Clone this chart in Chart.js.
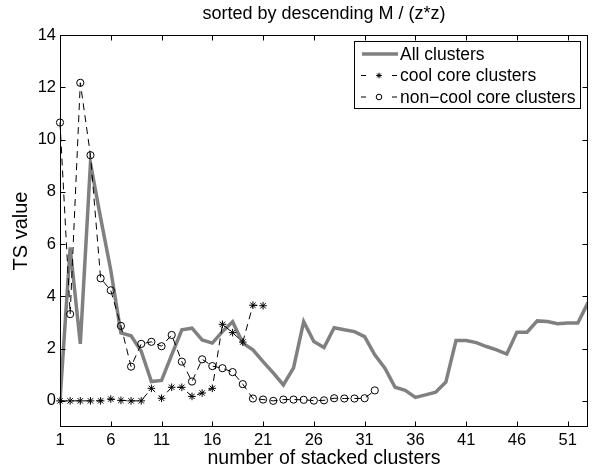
<!DOCTYPE html>
<html>
<head>
<meta charset="UTF-8">
<title>TS value vs number of stacked clusters</title>
<script src="https://cdn.jsdelivr.net/npm/chart.js"></script>
<style>
  html, body { margin: 0; padding: 0; background: #fff; }
  #wrap { width: 595px; height: 470px; }
</style>
</head>
<body>
<div id="wrap"><canvas id="tsChart" width="595" height="470"></canvas></div>
<script>
  // values, index 0 = 1 stacked cluster
  const allClusters = [0, 5.87, 2.18, 9.09, 7.0, 5.0, 2.6, 2.49, 1.9, 0.74,
    0.78, 1.76, 2.72, 2.78, 2.33, 2.21, 2.65, 3.03, 2.21, 1.95,
    1.5, 1.07, 0.61, 1.26, 3.03, 2.27, 2.04, 2.8, 2.72, 2.65,
    2.46, 1.76, 1.25, 0.52, 0.4, 0.13, 0.23, 0.33, 0.72, 2.31,
    2.31, 2.23, 2.08, 1.95, 1.79, 2.63, 2.63, 3.06, 3.04, 2.95,
    2.98, 2.98, 3.76];
  const coolCore = [0, 0, 0, 0, 0, 0.07, 0.02, 0, 0, 0.48,
    0.1, 0.52, 0.52, 0.17, 0.3, 0.48, 2.93, 2.61, 2.25, 3.66,
    3.64];
  const nonCoolCore = [10.65, 3.32, 12.17, 9.4, 4.69, 4.23, 2.87, 1.31, 2.18, 2.26,
    2.09, 2.52, 1.5, 0.74, 1.59, 1.33, 1.25, 1.1, 0.64, 0.09,
    0.05, 0.0, 0.05, 0.05, 0.04, 0.01, 0.02, 0.1, 0.09, 0.09,
    0.1, 0.4];
  const xTicks = [1, 6, 11, 16, 21, 26, 31, 36, 41, 46, 51];
  const yTicks = [0, 2, 4, 6, 8, 10, 12, 14];

  const FONT = "'Liberation Sans', Arial, Helvetica, sans-serif";
  const toPoints = arr => arr.map((v, i) => ({ x: i + 1, y: v }));

  // MATLAB-style box, inward ticks, title and inset legend
  const matlabLook = {
    id: 'matlabLook',
    afterDraw(chart) {
      const { ctx, chartArea: a, scales: { x, y } } = chart;
      const L = Math.round(a.left) + 0.5, R = Math.round(a.right) - 0.5;
      const T = Math.round(a.top) + 0.5, B = Math.round(a.bottom) - 0.5;
      ctx.save();
      ctx.strokeStyle = '#000';
      ctx.lineWidth = 1;
      ctx.setLineDash([]);
      ctx.strokeRect(L, T, R - L, B - T);
      ctx.beginPath();
      xTicks.forEach(v => {
        const px = Math.round(x.getPixelForValue(v)) + 0.5;
        ctx.moveTo(px, B); ctx.lineTo(px, B - 5);
        ctx.moveTo(px, T); ctx.lineTo(px, T + 5);
      });
      yTicks.forEach(v => {
        const py = Math.round(y.getPixelForValue(v)) + 0.5;
        ctx.moveTo(L, py); ctx.lineTo(L + 5, py);
        ctx.moveTo(R, py); ctx.lineTo(R - 5, py);
      });
      ctx.stroke();

      // title
      ctx.fillStyle = '#000';
      ctx.font = '18px ' + FONT;
      ctx.textAlign = 'center';
      ctx.textBaseline = 'middle';
      ctx.fillText('sorted by descending M / (z*z)', (a.left + a.right) / 2, 14);

      // legend
      const bx = 354.5, by = 41.5, bw = 226, bh = 67;
      ctx.fillStyle = '#fff';
      ctx.fillRect(bx, by, bw, bh);
      ctx.strokeStyle = '#000';
      ctx.strokeRect(bx, by, bw, bh);
      ctx.font = '17.5px ' + FONT;
      ctx.textAlign = 'left';
      chart.data.datasets.forEach((ds, i) => {
        const rowY = 54 + i * 21.5;
        ctx.save();
        ctx.strokeStyle = ds.borderColor;
        ctx.lineWidth = ds.borderWidth;
        ctx.beginPath();
        if (ds.borderDash) {
          ctx.moveTo(361, rowY); ctx.lineTo(366, rowY);
          ctx.moveTo(392, rowY); ctx.lineTo(397, rowY);
        } else {
          ctx.moveTo(362, rowY); ctx.lineTo(398, rowY);
        }
        ctx.stroke();
        if (ds.pointRadius > 0) {
          ctx.strokeStyle = ds.pointBorderColor;
          ctx.fillStyle = ds.pointBackgroundColor;
          Chart.helpers.drawPoint(ctx, { pointStyle: ds.pointStyle, radius: 2.8, borderWidth: 1 }, 379, rowY);
        }
        ctx.restore();
        ctx.fillStyle = '#000';
        ctx.fillText(ds.label, 400, rowY + 1);
      });
      ctx.restore();
    }
  };

  new Chart(document.getElementById('tsChart'), {
    type: 'line',
    data: {
      datasets: [
        {
          label: 'All clusters',
          data: toPoints(allClusters),
          borderColor: '#808080',
          borderWidth: 3.5,
          pointRadius: 0,
          tension: 0,
          order: 3
        },
        {
          label: 'cool core clusters',
          data: toPoints(coolCore),
          borderColor: '#000',
          borderWidth: 1,
          borderDash: [7, 5],
          pointStyle: 'star',
          pointRadius: 3.8,
          pointBorderColor: '#000',
          pointBackgroundColor: '#000',
          pointBorderWidth: 1,
          tension: 0,
          clip: false,
          order: 2
        },
        {
          label: 'non\u2212cool core clusters',
          data: toPoints(nonCoolCore),
          borderColor: '#000',
          borderWidth: 1,
          borderDash: [7, 5],
          pointStyle: 'circle',
          pointRadius: 3.6,
          pointBorderColor: '#000',
          pointBackgroundColor: 'rgba(0,0,0,0)',
          pointBorderWidth: 1,
          tension: 0,
          clip: false,
          order: 1
        }
      ]
    },
    options: {
      responsive: false,
      animation: false,
      layout: { padding: { left: 0, right: 7, top: 35, bottom: 0 } },
      plugins: {
        legend: { display: false },
        title: { display: false },
        tooltip: { enabled: false }
      },
      scales: {
        x: {
          type: 'linear',
          min: 1,
          max: 53,
          grid: { display: false, drawTicks: false },
          border: { display: false },
          afterBuildTicks: s => { s.ticks = xTicks.map(v => ({ value: v })); },
          afterFit: s => { s.height = 43; },
          ticks: { color: '#000', padding: 4, maxRotation: 0, autoSkip: false, font: { family: FONT, size: 16.5 } },
          title: { display: true, text: 'number of stacked clusters', color: '#000', padding: 0, font: { family: FONT, size: 19.5 } }
        },
        y: {
          min: -1,
          max: 14,
          grid: { display: false, drawTicks: false },
          border: { display: false },
          afterBuildTicks: s => { s.ticks = yTicks.map(v => ({ value: v })); },
          afterFit: s => { s.width = 60; },
          ticks: { color: '#000', padding: 4, font: { family: FONT, size: 16.5 } },
          title: { display: true, text: 'TS value', color: '#000', padding: { top: 9, bottom: 0 }, font: { family: FONT, size: 20 } }
        }
      }
    },
    plugins: [matlabLook]
  });
</script>
</body>
</html>
